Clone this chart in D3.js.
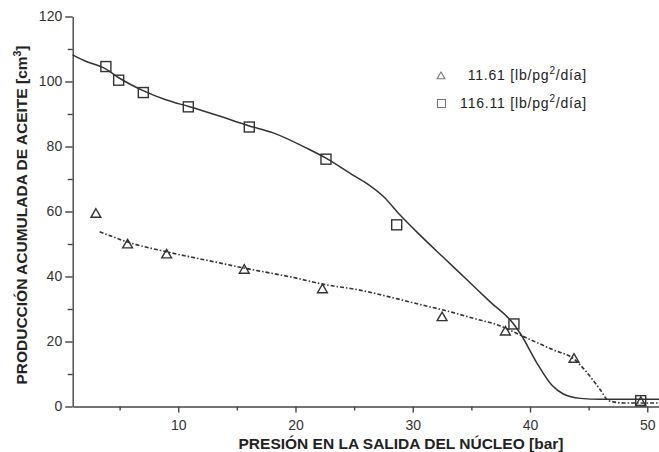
<!DOCTYPE html>
<html>
<head>
<meta charset="utf-8">
<script src="https://cdn.jsdelivr.net/npm/d3@7"></script>
<style>
  html, body { margin: 0; padding: 0; background: #fff; }
  svg { display: block; font-family: "Liberation Sans", Arial, sans-serif; }
</style>
</head>
<body>
<svg id="chart" width="659" height="452"></svg>
<script>
// Measured points: cumulative oil production vs. core outlet pressure
const seriesLabels = ["11.61", "116.11"];
const pressureLow  = [2.98, 5.68, 9.01, 15.63, 22.3, 32.5, 37.9, 43.75, 49.44];
const oilLow       = [59.4, 50.0, 46.9, 42.2, 36.2, 27.6, 23.2, 14.8, 1.5];
const pressureHigh = [3.83, 4.92, 7.02, 10.86, 16.06, 22.6, 28.63, 38.63, 49.44];
const oilHigh      = [104.6, 100.4, 96.6, 92.2, 86.0, 76.1, 55.9, 25.4, 1.8];

// Fitted trend curves drawn through the measurements
const fitLowX  = [3.3, 5.6, 9.0, 12.7, 15.6, 19.8, 22.4, 25.5, 28.5, 30.6, 32.7, 35.0, 37.6, 39.1, 42.0, 43.75, 44.8, 46.0, 46.7, 48.0, 51.0];
const fitLowY  = [53.8, 50.7, 47.6, 44.8, 42.6, 39.7, 37.6, 35.8, 33.3, 31.4, 29.6, 27.3, 24.6, 22.1, 17.4, 14.6, 10.7, 5.1, 1.8, 1.1, 1.1];
const fitHighX = [1.0, 2.0, 3.8, 5.0, 7.0, 9.0, 10.9, 13.3, 16.0, 18.1, 21.0, 22.6, 24.9, 26.1, 27.5, 28.9, 30.6, 32.6, 34.6, 36.6, 38.6, 39.2, 40.6, 41.85, 42.84, 44.3, 46.0, 51.0];
const fitHighY = [108.2, 106.4, 103.9, 101.0, 97.2, 94.3, 92.3, 89.6, 86.4, 84.2, 79.4, 76.4, 71.2, 68.6, 64.6, 59.0, 52.8, 45.9, 39.1, 32.2, 25.4, 22.3, 13.3, 6.6, 3.85, 2.5, 2.2, 2.2];

const xMajor = [10, 20, 30, 40, 50];
const xMinor = [5, 15, 25, 35, 45];
const yMajor = [0, 20, 40, 60, 80, 100, 120];
const yMinor = [10, 30, 50, 70, 90, 110];

const svg = d3.select("#chart");
const ink = "#333";

const x = d3.scaleLinear().domain([1, 51]).range([72.7, 659]);
const y = d3.scaleLinear().domain([0, 120]).range([406.5, 16.5]);

// X axis
const gx = svg.append("g").attr("transform", `translate(0,${y(0)})`);
gx.call(d3.axisBottom(x).tickValues(xMajor).tickSize(6).tickSizeOuter(0).tickPadding(8));
gx.append("g").call(d3.axisBottom(x).tickValues(xMinor).tickSize(4).tickSizeOuter(0).tickFormat(""))
  .select(".domain").remove();

// Y axis
const gy = svg.append("g").attr("transform", `translate(${x(1)},0)`);
gy.call(d3.axisLeft(y).tickValues(yMajor).tickSize(7.5).tickSizeOuter(0).tickPadding(3));
gy.append("g").call(d3.axisLeft(y).tickValues(yMinor).tickSize(5).tickSizeOuter(0).tickFormat(""))
  .select(".domain").remove();

svg.selectAll(".domain, .tick line").attr("stroke", "#444").attr("stroke-width", 1.4);
svg.selectAll(".tick text").attr("font-size", 14).attr("fill", ink)
   .attr("font-family", "Liberation Sans, Arial, sans-serif");

// Axis titles
svg.append("text")
  .attr("x", 401).attr("y", 449)
  .attr("text-anchor", "middle")
  .attr("font-size", 15.5).attr("font-weight", "bold").attr("fill", "#222")
  .text("PRESIÓN EN LA SALIDA DEL NÚCLEO [bar]");

const yt = svg.append("text")
  .attr("transform", "translate(27,215) rotate(-90)")
  .attr("text-anchor", "middle")
  .attr("font-size", 15.5).attr("font-weight", "bold").attr("fill", "#222");
yt.append("tspan").text("PRODUCCIÓN ACUMULADA DE ACEITE [cm");
yt.append("tspan").attr("dy", -6).attr("font-size", 10.5).text("3");
yt.append("tspan").attr("dy", 6).text("]");

// Trend curves
const line = d3.line().x(d => x(d[0])).y(d => y(d[1])).curve(d3.curveMonotoneX);
svg.append("path")
  .datum(d3.zip(fitHighX, fitHighY))
  .attr("d", line).attr("fill", "none")
  .attr("stroke", ink).attr("stroke-width", 1.5);
svg.append("path")
  .datum(d3.zip(fitLowX, fitLowY))
  .attr("d", line).attr("fill", "none")
  .attr("stroke", ink).attr("stroke-width", 1.6)
  .attr("stroke-dasharray", "4,2,1.5,2");

// Markers
const tri = d3.symbol().type(d3.symbolTriangle).size(42);
svg.append("g").selectAll("path")
  .data(d3.zip(pressureLow, oilLow))
  .join("path")
  .attr("transform", d => `translate(${x(d[0])},${y(d[1]) + 1})`)
  .attr("d", tri).attr("fill", "none").attr("stroke", ink).attr("stroke-width", 1.4);

svg.append("g").selectAll("rect")
  .data(d3.zip(pressureHigh, oilHigh))
  .join("rect")
  .attr("x", d => x(d[0]) - 5).attr("y", d => y(d[1]) - 5)
  .attr("width", 10).attr("height", 10)
  .attr("fill", "none").attr("stroke", ink).attr("stroke-width", 1.4);

// Legend
const legend = svg.append("g");
const rows = [
  { label: seriesLabels[0], cy: 75.7, mark: "tri" },
  { label: seriesLabels[1], cy: 103, mark: "sq" }
];
rows.forEach(r => {
  if (r.mark === "tri") {
    legend.append("path")
      .attr("transform", `translate(441,${r.cy + 0.8})`)
      .attr("d", d3.symbol().type(d3.symbolTriangle).size(26))
      .attr("fill", "none").attr("stroke", "#777").attr("stroke-width", 1.1);
  } else {
    legend.append("rect")
      .attr("x", 437.5).attr("y", r.cy - 3.5).attr("width", 8).attr("height", 8)
      .attr("fill", "none").attr("stroke", "#777").attr("stroke-width", 1.1);
  }
  const t = legend.append("text")
    .attr("x", 587).attr("y", r.cy + 4.5)
    .attr("text-anchor", "end")
    .attr("font-size", 14).attr("letter-spacing", 0.8).attr("fill", "#222");
  t.append("tspan").text(r.label + " [lb/pg");
  t.append("tspan").attr("dy", -6).attr("font-size", 10).text("2");
  t.append("tspan").attr("dy", 6).text("/día]");
});
</script>
</body>
</html>
